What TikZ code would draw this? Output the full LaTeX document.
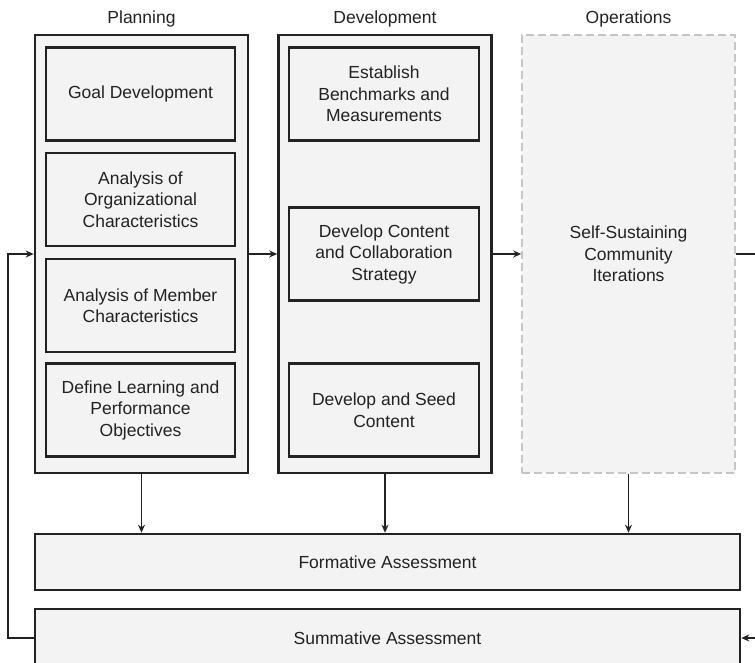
\documentclass[tikz,border=0pt]{standalone}
\usepackage{fontspec}
\setmainfont{Liberation Sans}
\usepackage{tikz}
\usetikzlibrary{arrows.meta,calc}
\definecolor{BoxGray}{HTML}{F3F3F3}
\definecolor{EdgeDark}{HTML}{222222}
\definecolor{DashGray}{HTML}{C6C6C6}

\tikzset{
  phase/.style={draw=EdgeDark,fill=BoxGray,line width=2.6pt,minimum width=213pt,minimum height=438pt},
  openphase/.style={draw=DashGray,fill=BoxGray,line width=1.6pt,dash pattern=on 8pt off 4pt,
    minimum width=213pt,minimum height=438pt,align=center},
  task/.style={draw=EdgeDark,fill=BoxGray,line width=2.6pt,minimum width=189pt,minimum height=93pt,align=center},
  assess/.style={draw=EdgeDark,fill=BoxGray,line width=2.6pt,minimum width=705pt,align=center},
  flow/.style={draw=EdgeDark,line width=1.4pt,-{Stealth[length=8pt,width=7pt]}},
  every node/.style={font=\fontsize{17.5}{21.5}\selectfont,text=EdgeDark,inner sep=0pt}
}

\begin{document}
\begin{tikzpicture}[x=1pt,y=-1pt]
    \useasboundingbox (0,0) rectangle (755,663);

    \node[phase] (plan) at (141.5,254) {};
    \node[phase] (dev) at (385,254) {};
    \node[openphase] (ops) at (628.5,254) {Self-Sustaining\\Community\\Iterations};

    \node (planlabel) at (plan.north |- 0,19) {Planning};
    \node (devlabel) at (dev.north |- 0,19) {Development};
    \node (opslabel) at (ops.north |- 0,19) {Operations};

    \node[task] (goal) at (140.5,94) {Goal Development};
    \node[task] (org) at (140.5,199.5) {Analysis of\\Organizational\\Characteristics};
    \node[task] (member) at (140.5,305.5) {Analysis of Member\\Characteristics};
    \node[task] (objectives) at (140.5,410) {Define Learning and\\Performance\\Objectives};

    \node[task,minimum width=190pt] (bench) at (384,94) {Establish\\Benchmarks and\\Measurements};
    \node[task,minimum width=190pt] (strategy) at (384,254) {Develop Content\\and Collaboration\\Strategy};
    \node[task,minimum width=190pt] (seed) at (384,410) {Develop and Seed\\Content};

    \node[assess,minimum height=56pt] (form) at (387.5,562) {Formative Assessment};
    \node[assess,minimum height=58pt] (sum) at (387.5,638) {Summative Assessment};

    \coordinate (loopleft) at (8,638);
    \coordinate (loopright) at (755,254);
    \coordinate (loopin) at (755,638);

    \draw[flow] (plan.east) -- (dev.west);
    \draw[flow] (dev.east) -- (ops.west);
    \draw[flow] (plan.south) -- (plan.south |- form.north);
    \draw[flow] (dev.south) -- (dev.south |- form.north);
    \draw[flow] (ops.south) -- (ops.south |- form.north);
    \draw[flow] (sum.west) -- (loopleft) |- (plan.west);
    \draw[draw=EdgeDark,line width=1.4pt] (ops.east) -- (loopright);
    \draw[flow] (loopin) -- (sum.east);
\end{tikzpicture}
\end{document}
